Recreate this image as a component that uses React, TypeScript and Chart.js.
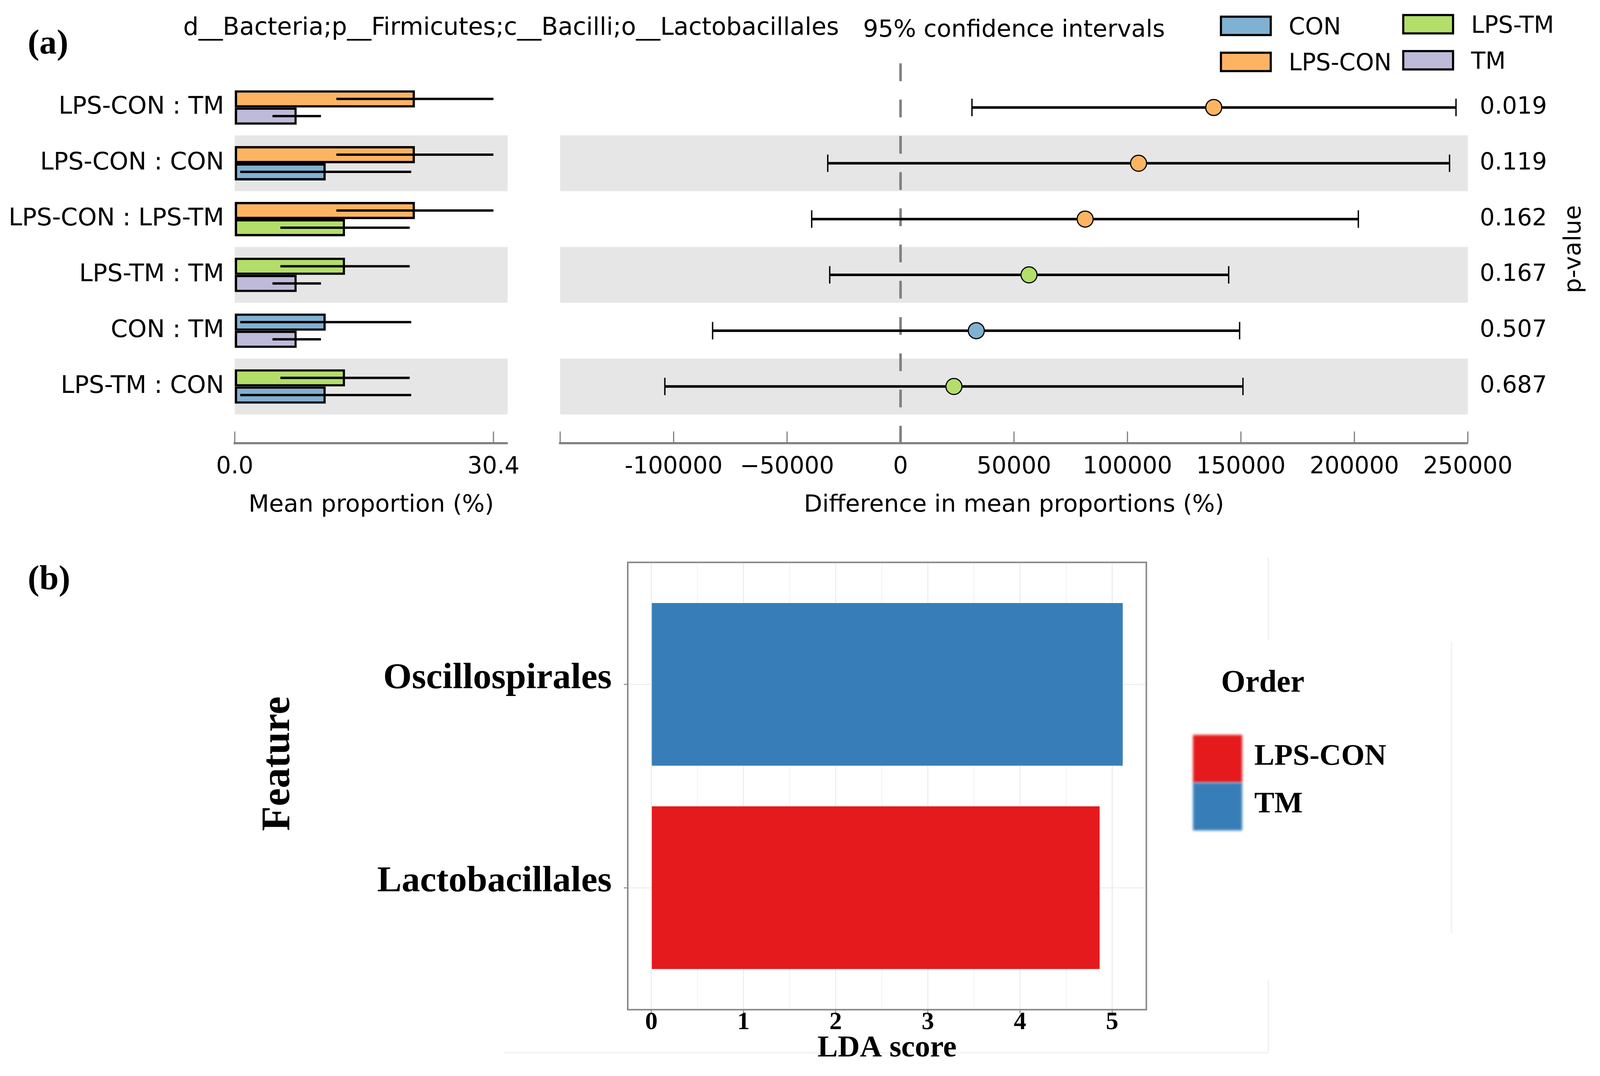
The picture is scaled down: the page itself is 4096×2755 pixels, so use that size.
import React, { useEffect, useRef } from 'react';
import { Chart, registerables } from 'chart.js';

Chart.register(...registerables);

// ---------------- data: panel (a) ----------------
const taxonTitle = 'd__Bacteria;p__Firmicutes;c__Bacilli;o__Lactobacillales';
const ciTitle = '95% confidence intervals';
const comparisons = ['LPS-CON : TM', 'LPS-CON : CON', 'LPS-CON : LPS-TM', 'LPS-TM : TM', 'CON : TM', 'LPS-TM : CON'];
const firstGroup = ['LPS-CON', 'LPS-CON', 'LPS-CON', 'LPS-TM', 'CON', 'LPS-TM'];
const secondGroup = ['TM', 'CON', 'LPS-TM', 'TM', 'TM', 'CON'];
const groupNames = ['CON', 'LPS-CON', 'LPS-TM', 'TM'];
const groupColors = ['#80B1D3', '#FDB462', '#B3DE69', '#BEBADA'];
const groupMeans = [10.69, 21.17, 12.96, 7.28];
const groupSDs = [10.05, 9.23, 7.6, 2.85];
const meanTickValues = [0, 30.4];
const diffMeans = [138020, 104890, 81350, 56620, 33380, 23520];
const diffLower = [31470, -32070, -39150, -31200, -82820, -103860];
const diffUpper = [244780, 241930, 201740, 144610, 149420, 150900];
const pValues = ['0.019', '0.119', '0.162', '0.167', '0.507', '0.687'];
const diffTickValues = [-150000, -100000, -50000, 0, 50000, 100000, 150000, 200000, 250000];
const diffTickLabels = ['', '-100000', '\u221250000', '0', '50000', '100000', '150000', '200000', '250000'];

// ---------------- data: panel (b) ----------------
const features = ['Lactobacillales', 'Oscillospirales'];
const ldaScores = [4.864, 5.115];
const featureOrder = ['LPS-CON', 'TM'];
const orderNames = ['LPS-CON', 'TM'];
const orderColors = ['#E41A1C', '#377EB8'];
const ldaTickValues = [0, 1, 2, 3, 4, 5];
const ldaGridValues = [0, 0.5, 1, 1.5, 2, 2.5, 3, 3.5, 4, 4.5, 5];

// ---------------- layout ----------------
const W = 4096;
const H = 2755;
const TOP_H = 1400;
const BOT_TOP = 1400;
const BOT_H = H - BOT_TOP;
const SANS = 'DejaVu Sans';
const SERIF = 'Liberation Serif';
const AXIS_GRAY = '#808080';

const A_LEFT = 601;
const A_RIGHT = 1299.6;
const B_LEFT = 1434;
const B_RIGHT = 3757.7;
const ROW_TOP = 162.3;
const AXIS_Y = 1134.7;
const ROW_MIN = -0.79;
const ROW_MAX = 6.016;
const MEAN_MAX = 32.07;
const DIFF_MIN = -150000;
const DIFF_MAX = 250000;

const C_LEFT = 1607;
const C_RIGHT = 2934.6;
const C_TOP = 1439.9;
const C_BOTTOM = 2585.2;
const LDA_MIN = -0.256;
const LDA_MAX = 5.371;

const gi = (g: string) => groupNames.indexOf(g);
const colorOf = (g: string) => groupColors[gi(g)];
const meanOf = (g: string) => groupMeans[gi(g)];
const sdOf = (g: string) => groupSDs[gi(g)];

const noPad = (s: any) => {
  s.paddingTop = 0;
  s.paddingBottom = 0;
  s.paddingLeft = 0;
  s.paddingRight = 0;
};

function drawRowBands(chart: any) {
  const { ctx, chartArea } = chart;
  const ys = chart.scales.y;
  ctx.save();
  ctx.fillStyle = '#E6E6E6';
  comparisons.forEach((_, i) => {
    if (i % 2 === 1) {
      const t = ys.getPixelForValue(i - 0.5);
      const b = ys.getPixelForValue(i + 0.5);
      ctx.fillRect(chartArea.left, Math.min(t, b), chartArea.right - chartArea.left, Math.abs(b - t));
    }
  });
  ctx.restore();
}

function drawInwardTicks(chart: any) {
  const { ctx, chartArea } = chart;
  const xs = chart.scales.x;
  ctx.save();
  ctx.strokeStyle = AXIS_GRAY;
  ctx.lineWidth = 3;
  xs.ticks.forEach((t: any) => {
    const px = xs.getPixelForValue(t.value);
    ctx.beginPath();
    ctx.moveTo(px, chartArea.bottom);
    ctx.lineTo(px, chartArea.bottom - 30);
    ctx.stroke();
  });
  ctx.restore();
}

const rowScale = {
  type: 'linear',
  reverse: true,
  min: ROW_MIN,
  max: ROW_MAX,
  offset: false,
  afterBuildTicks: (s: any) => {
    s.ticks = comparisons.map((_, i) => ({ value: i }));
  },
  grid: { display: false, drawTicks: false, offset: false },
  border: { display: false },
};

export default function App() {
  const aRef = useRef<HTMLCanvasElement>(null);
  const bRef = useRef<HTMLCanvasElement>(null);
  const cRef = useRef<HTMLCanvasElement>(null);

  useEffect(() => {
    const charts: Chart[] = [];
    Chart.defaults.font.family = SANS;
    Chart.defaults.color = '#000';

    // ---------- chart A: mean proportions ----------
    charts.push(
      new Chart(aRef.current as HTMLCanvasElement, {
        type: 'bar',
        data: {
          datasets: [firstGroup, secondGroup].map((groups, d) => ({
            label: d === 0 ? 'first group' : 'second group',
            data: groups.map((g, i) => ({ x: meanOf(g), y: i })),
            backgroundColor: groups.map(colorOf),
            borderColor: '#000',
            borderWidth: 6,
            borderSkipped: false,
            categoryPercentage: 0.616,
            barPercentage: 1,
          })),
        } as any,
        options: {
          indexAxis: 'y',
          animation: false,
          responsive: false,
          devicePixelRatio: 1,
          events: [],
          layout: { padding: { left: 0, right: W - A_RIGHT, top: ROW_TOP, bottom: 0 } },
          plugins: { legend: { display: false }, tooltip: { enabled: false }, title: { display: false } },
          scales: {
            y: {
              ...rowScale,
              afterFit: (s: any) => {
                s.width = A_LEFT;
                noPad(s);
              },
              ticks: {
                callback: (v: any) => comparisons[Math.round(Number(v))] ?? '',
                font: { family: SANS, size: 62 },
                color: '#000',
                padding: 27.3,
                autoSkip: false,
              },
            },
            x: {
              type: 'linear',
              min: 0,
              max: MEAN_MAX,
              afterBuildTicks: (s: any) => {
                s.ticks = meanTickValues.map((v) => ({ value: v }));
              },
              afterFit: (s: any) => {
                s.height = TOP_H - AXIS_Y;
                noPad(s);
              },
              grid: { display: false, drawTicks: false },
              border: { display: true, color: AXIS_GRAY, width: 5.5 },
              ticks: {
                callback: (v: any) => Number(v).toFixed(1),
                font: { family: SANS, size: 60 },
                color: '#000',
                padding: 25.3,
                autoSkip: false,
                maxRotation: 0,
              },
              title: {
                display: true,
                text: 'Mean proportion (%)',
                font: { family: SANS, size: 61 },
                color: '#000',
                padding: { top: 0, bottom: 68.9 },
              },
            },
          },
        } as any,
        plugins: [
          {
            id: 'meanDecor',
            beforeDatasetsDraw: (chart: any) => drawRowBands(chart),
            afterDatasetsDraw: (chart: any) => {
              const { ctx } = chart;
              const xs = chart.scales.x;
              ctx.save();
              ctx.strokeStyle = '#000';
              ctx.lineWidth = 6;
              [firstGroup, secondGroup].forEach((groups, d) => {
                chart.getDatasetMeta(d).data.forEach((bar: any, i: number) => {
                  const m = meanOf(groups[i]);
                  const s = sdOf(groups[i]);
                  ctx.beginPath();
                  ctx.moveTo(xs.getPixelForValue(m - s), bar.y);
                  ctx.lineTo(xs.getPixelForValue(m + s), bar.y);
                  ctx.stroke();
                });
              });
              ctx.restore();
              drawInwardTicks(chart);
            },
          },
        ],
      })
    );

    // ---------- chart B: differences with CI ----------
    charts.push(
      new Chart(bRef.current as HTMLCanvasElement, {
        type: 'scatter',
        data: {
          datasets: [
            {
              label: 'difference',
              data: diffMeans.map((v, i) => ({ x: v, y: i })),
              pointRadius: 20.5,
              pointBackgroundColor: firstGroup.map(colorOf),
              pointBorderColor: '#000',
              pointBorderWidth: 3,
              showLine: false,
            },
            ...comparisons.map((c, i) => ({
              label: 'CI ' + c,
              data: [
                { x: diffLower[i], y: i },
                { x: diffUpper[i], y: i },
              ],
              showLine: true,
              borderColor: '#000',
              borderWidth: 6.5,
              pointStyle: 'line',
              pointRotation: 90,
              pointRadius: 22.3,
              pointBorderColor: '#000',
              pointBorderWidth: 3.5,
              fill: false,
            })),
          ],
        } as any,
        options: {
          animation: false,
          responsive: false,
          devicePixelRatio: 1,
          events: [],
          layout: { padding: { left: B_LEFT, right: 0, top: ROW_TOP, bottom: 0 } },
          plugins: { legend: { display: false }, tooltip: { enabled: false }, title: { display: false } },
          scales: {
            x: {
              type: 'linear',
              min: DIFF_MIN,
              max: DIFF_MAX,
              afterBuildTicks: (s: any) => {
                s.ticks = diffTickValues.map((v) => ({ value: v }));
              },
              afterFit: (s: any) => {
                s.height = TOP_H - AXIS_Y;
                noPad(s);
              },
              grid: { display: false, drawTicks: false },
              border: { display: true, color: AXIS_GRAY, width: 5.5 },
              ticks: {
                callback: (v: any) => diffTickLabels[diffTickValues.indexOf(Number(v))] ?? '',
                font: { family: SANS, size: 60 },
                color: '#000',
                padding: 25.3,
                autoSkip: false,
                maxRotation: 0,
              },
              title: {
                display: true,
                text: 'Difference in mean proportions (%)',
                font: { family: SANS, size: 61 },
                color: '#000',
                padding: { top: 0, bottom: 68.9 },
              },
            },
            y: { ...rowScale, display: false },
            y2: {
              ...rowScale,
              position: 'right',
              afterFit: (s: any) => {
                s.width = W - B_RIGHT;
                noPad(s);
              },
              ticks: {
                callback: (v: any) => pValues[Math.round(Number(v))] ?? '',
                font: { family: SANS, size: 60 },
                color: '#000',
                padding: 30.6,
                autoSkip: false,
              },
            },
          },
        } as any,
        plugins: [
          {
            id: 'diffDecor',
            beforeDatasetsDraw: (chart: any) => {
              drawRowBands(chart);
              const { ctx, chartArea } = chart;
              const x0 = chart.scales.x.getPixelForValue(0);
              ctx.save();
              ctx.strokeStyle = '#7f7f7f';
              ctx.lineWidth = 6.5;
              ctx.setLineDash([45.5, 47.3]);
              ctx.beginPath();
              ctx.moveTo(x0, chartArea.top);
              ctx.lineTo(x0, chartArea.bottom);
              ctx.stroke();
              ctx.restore();
            },
            afterDraw: (chart: any) => {
              drawInwardTicks(chart);
              const { ctx, chartArea } = chart;
              ctx.save();
              ctx.fillStyle = '#000';
              ctx.textBaseline = 'alphabetic';
              ctx.textAlign = 'left';
              ctx.font = `bold 89px "${SERIF}"`;
              ctx.fillText('(a)', 71, 137);
              ctx.font = `62px "${SANS}"`;
              ctx.fillText(taxonTitle, 469, 88.5);
              ctx.font = `61px "${SANS}"`;
              ctx.textAlign = 'center';
              ctx.fillText(ciTitle, (chartArea.left + chartArea.right) / 2, 94);

              // legend (two columns, column-major like matplotlib)
              const legX = [3125.6, 3592.3];
              const legY = [42.7, 38.5];
              const legTX = [3299, 3766];
              ctx.font = `60px "${SANS}"`;
              ctx.textAlign = 'left';
              groupNames.forEach((name, i) => {
                const col = Math.floor(i / 2);
                const row = i % 2;
                const bx = legX[col];
                const by = legY[col] + row * 92.3;
                ctx.fillStyle = groupColors[i];
                ctx.fillRect(bx, by, 127.5, 47);
                ctx.lineWidth = 5.5;
                ctx.strokeStyle = '#000';
                ctx.strokeRect(bx, by, 127.5, 47);
                ctx.fillStyle = '#000';
                ctx.fillText(name, legTX[col], by + 45);
              });

              ctx.translate(4046, 638);
              ctx.rotate(-Math.PI / 2);
              ctx.textAlign = 'center';
              ctx.font = `61px "${SANS}"`;
              ctx.fillText('p-value', 0, 0);
              ctx.restore();
            },
          },
        ],
      })
    );

    // ---------- chart C: LDA scores ----------
    charts.push(
      new Chart(cRef.current as HTMLCanvasElement, {
        type: 'bar',
        data: {
          datasets: [
            {
              label: 'LDA score',
              data: ldaScores.map((v, i) => ({ x: v, y: i + 1 })),
              backgroundColor: featureOrder.map((o) => orderColors[orderNames.indexOf(o)]),
              borderWidth: 0,
              categoryPercentage: 0.8,
              barPercentage: 1,
            },
          ],
        } as any,
        options: {
          indexAxis: 'y',
          animation: false,
          responsive: false,
          devicePixelRatio: 1,
          events: [],
          layout: { padding: { left: 0, right: W - C_RIGHT, top: C_TOP - BOT_TOP, bottom: 0 } },
          plugins: { legend: { display: false }, tooltip: { enabled: false }, title: { display: false } },
          scales: {
            y: {
              type: 'linear',
              min: 0.4,
              max: 2.6,
              offset: false,
              afterBuildTicks: (s: any) => {
                s.ticks = features.map((_, i) => ({ value: i + 1 }));
              },
              afterFit: (s: any) => {
                s.width = C_LEFT;
                noPad(s);
              },
              grid: {
                display: true,
                offset: false,
                color: '#EDEDED',
                lineWidth: 2.5,
                drawTicks: true,
                tickLength: 10,
                tickColor: '#8c8c8c',
                tickWidth: 2.5,
              },
              border: { display: false },
              ticks: {
                callback: (v: any) => features[Math.round(Number(v)) - 1] ?? '',
                font: { family: SERIF, size: 94, weight: 'bold' },
                color: '#000',
                padding: 31,
                labelOffset: -15,
                autoSkip: false,
              },
            },
            x: {
              type: 'linear',
              min: LDA_MIN,
              max: LDA_MAX,
              afterBuildTicks: (s: any) => {
                s.ticks = ldaGridValues.map((v) => ({ value: v }));
              },
              afterFit: (s: any) => {
                s.height = H - C_BOTTOM;
                noPad(s);
              },
              grid: {
                display: true,
                color: (c: any) => (ldaTickValues.includes(c.tick?.value) ? '#EBEBEB' : '#F4F4F4'),
                lineWidth: 2.5,
                drawTicks: true,
                tickLength: 10,
                tickColor: (c: any) => (ldaTickValues.includes(c.tick?.value) ? '#8c8c8c' : 'rgba(0,0,0,0)'),
                tickWidth: 2.5,
              },
              border: { display: false },
              ticks: {
                callback: (v: any) => (ldaTickValues.includes(Number(v)) ? String(v) : ''),
                font: { family: SERIF, size: 64, weight: 'bold', lineHeight: 1 },
                color: '#000',
                padding: -8.6,
                autoSkip: false,
                maxRotation: 0,
              },
              title: {
                display: true,
                text: 'LDA score',
                font: { family: SERIF, size: 78, weight: 'bold' },
                color: '#000',
                padding: { top: 0, bottom: 23.2 },
              },
            },
          },
        } as any,
        plugins: [
          {
            id: 'ldaDecor',
            beforeDraw: (chart: any) => {
              const { ctx } = chart;
              const o = BOT_TOP;
              ctx.save();
              ctx.strokeStyle = '#F2F2F2';
              ctx.lineWidth = 4;
              ctx.beginPath();
              ctx.moveTo(1291, 2695.6 - o);
              ctx.lineTo(3245, 2695.6 - o);
              ctx.moveTo(3247, 1427 - o);
              ctx.lineTo(3247, 1640 - o);
              ctx.moveTo(3247, 2511 - o);
              ctx.lineTo(3247, 2694 - o);
              ctx.moveTo(3716, 1644 - o);
              ctx.lineTo(3716, 2390 - o);
              ctx.stroke();
              ctx.restore();
            },
            afterDraw: (chart: any) => {
              const { ctx, chartArea } = chart;
              const o = BOT_TOP;
              ctx.save();
              ctx.strokeStyle = '#8a8a8a';
              ctx.lineWidth = 4;
              ctx.strokeRect(chartArea.left, chartArea.top, chartArea.right - chartArea.left, chartArea.bottom - chartArea.top);

              ctx.fillStyle = '#000';
              ctx.textAlign = 'left';
              ctx.textBaseline = 'alphabetic';
              ctx.font = `bold 89px "${SERIF}"`;
              ctx.fillText('(b)', 71, 1509 - o);

              ctx.save();
              ctx.translate(713, 1955.5 - o);
              ctx.rotate(-Math.PI / 2);
              ctx.textAlign = 'center';
              ctx.textBaseline = 'middle';
              ctx.font = `bold 104px "${SERIF}"`;
              ctx.fillText('Feature', 0, 0);
              ctx.restore();

              // legend "Order"
              ctx.font = `bold 80px "${SERIF}"`;
              ctx.fillText('Order', 3126, 1771 - o);
              const swTop = [1881.6, 2004];
              const txtY = [1958, 2080];
              orderNames.forEach((name, i) => {
                ctx.save();
                ctx.filter = 'blur(3px)';
                ctx.fillStyle = orderColors[i];
                ctx.fillRect(3054, swTop[i] - o, 126, 122.4);
                ctx.restore();
                ctx.fillStyle = '#000';
                ctx.font = `bold 77px "${SERIF}"`;
                ctx.fillText(name, 3211, txtY[i] - o);
              });
              ctx.restore();
            },
          },
        ],
      })
    );

    return () => charts.forEach((c) => c.destroy());
  }, []);

  return (
    <div style={{ position: 'absolute', left: 0, top: 0, width: W, height: H, background: '#fff', overflow: 'hidden' }}>
      <canvas ref={aRef} width={W} height={TOP_H} style={{ position: 'absolute', left: 0, top: 0, width: W, height: TOP_H }} />
      <canvas ref={bRef} width={W} height={TOP_H} style={{ position: 'absolute', left: 0, top: 0, width: W, height: TOP_H }} />
      <canvas ref={cRef} width={W} height={BOT_H} style={{ position: 'absolute', left: 0, top: BOT_TOP, width: W, height: BOT_H }} />
    </div>
  );
}
